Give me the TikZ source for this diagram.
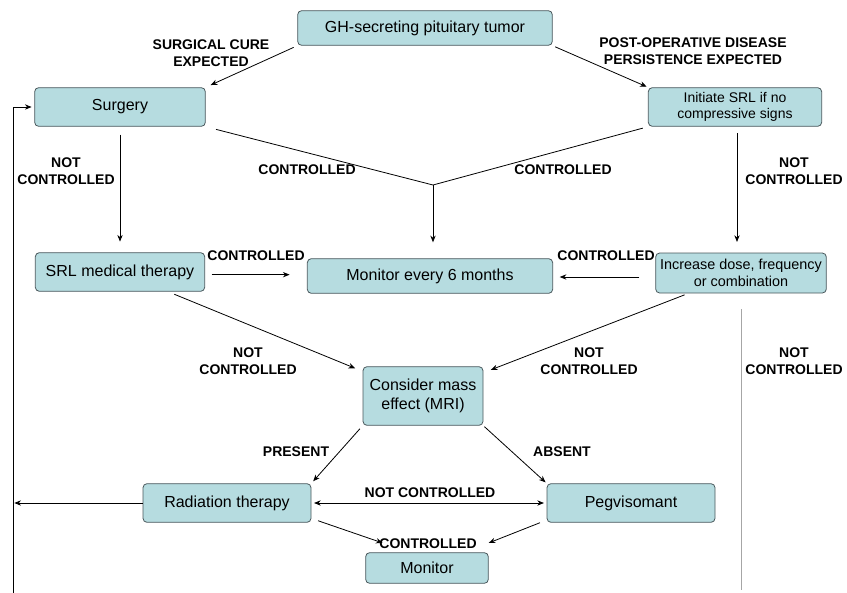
\documentclass[tikz,border=0pt]{standalone}
\usepackage{fontspec}
\setmainfont{Liberation Sans}
\usepackage{tikz}
\usetikzlibrary{arrows.meta}

\definecolor{boxfill}{RGB}{182,220,224}
\definecolor{boxline}{RGB}{74,88,92}

\begin{document}
\begin{tikzpicture}[x=0.75pt, y=-0.75pt, >={Stealth[length=5pt,width=4pt]},
        box/.style={rectangle, rounded corners=3pt, draw=boxline, fill=boxfill, align=center,
            inner sep=1pt, font=\fontsize{12}{14}\selectfont},
        lbl/.style={font=\bfseries\fontsize{10.5}{13}\selectfont, align=center},
        line width=0.6pt]
                \useasboundingbox (0,0) rectangle (847,593);
                % Draw the boxes
                \node[box, minimum width=191pt, minimum height=26pt] (tumor) at (425,28) {GH-secreting pituitary tumor};
                \node[box, minimum width=128pt, minimum height=29pt] (surgery) at (120,107) {Surgery};
                \node[box, minimum width=130pt, minimum height=29pt, font=\fontsize{10.5}{12.5}\selectfont] (initiate) at (735,107) {Initiate SRL if no\\compressive signs};
                \node[box, minimum width=127pt, minimum height=29pt] (srl) at (120,272) {SRL medical therapy};
                \node[box, minimum width=184pt, minimum height=26pt] (mon6) at (430,276) {Monitor every 6 months};
                \node[box, minimum width=128pt, minimum height=30pt, font=\fontsize{10.8}{12.8}\selectfont] (increase) at (741,273) {Increase dose, frequency\\or combination};
                \node[box, minimum width=90pt, minimum height=44pt] (consider) at (423,396) {Consider mass\\effect (MRI)};
                \node[box, minimum width=126pt, minimum height=29pt] (radiation) at (227,503) {Radiation therapy};
                \node[box, minimum width=126pt, minimum height=29pt] (pegvi) at (631,503) {Pegvisomant};
                \node[box, minimum width=92pt, minimum height=23pt] (monitor) at (427,568) {Monitor};

                % Helper points for the joins and the loop back
                \coordinate (join) at (433,185);
                \coordinate (back) at (13,593);
                \coordinate (greyend) at (741,590);

                % From the tumor
                \draw[->, shorten <=3pt, shorten >=4pt] (tumor.south west) -- (surgery.north east);
                \draw[->, shorten <=2pt, shorten >=1pt] (tumor.south east) -- (initiate.north west);
                \node[lbl] (cure) at (211,53) {SURGICAL CURE\\EXPECTED};
                \node[lbl] (persist) at (693,51) {POST-OPERATIVE DISEASE\\PERSISTENCE EXPECTED};

                % Controlled after surgery or SRL
                \draw[shorten <=8pt] (surgery.south east) -- (join);
                \draw[shorten <=4pt] (initiate.south west) -- (join);
                \draw[->, shorten >=12pt] (join) -- (join |- mon6.north);
                \node[lbl] (ctrl1) at (307,170) {CONTROLLED};
                \node[lbl] (ctrl2) at (563,170) {CONTROLLED};

                % Not controlled, top row
                \draw[->, shorten <=6pt, shorten >=8pt] (surgery.south) -- (srl.north);
                \draw[->, shorten <=5pt, shorten >=8pt] ([xshift=1.5pt]initiate.south) -- ([xshift=1.5pt]initiate.south |- increase.north);
                \node[lbl] (nc1) at (66,171) {NOT\\CONTROLLED};
                \node[lbl] (nc2) at (794,171) {NOT\\CONTROLLED};

                % Middle row into the monitoring box
                \draw[->, shorten <=5pt, shorten >=13pt] ([yshift=-2pt]srl.east) -- ([yshift=-2pt]srl.east -| mon6.west);
                \draw[->, shorten <=12pt, shorten >=5pt] ([yshift=-3pt]increase.west) -- ([yshift=-3pt]increase.west -| mon6.east);
                \node[lbl] (ctrl3) at (256,256) {CONTROLLED};
                \node[lbl] (ctrl4) at (606,256) {CONTROLLED};

                % Not controlled, towards the mass effect
                \draw[->, shorten <=5pt, shorten >=6pt] (srl) -- (consider);
                \draw[->, shorten <=3pt, shorten >=6pt] (increase) -- (consider);
                \draw[gray!70] ([yshift=-12pt]increase.south) -- (increase.south |- greyend);
                \node[lbl] (nc3) at (248,361) {NOT\\CONTROLLED};
                \node[lbl] (nc4) at (589,361) {NOT\\CONTROLLED};
                \node[lbl] (nc5) at (794,361) {NOT\\CONTROLLED};

                % Present or absent
                \draw[->, shorten <=3pt, shorten >=2pt] (consider.south west) -- (radiation.north east);
                \draw[->, shorten <=1pt, shorten >=1pt] (consider.south east) -- (pegvi.north west);
                \node[lbl] (present) at (296,452) {PRESENT};
                \node[lbl] (absent) at (562,452) {ABSENT};

                % Bottom row
                \draw[<->, shorten <=2pt, shorten >=2pt] (pegvi.west) -- (radiation.east);
                \node[lbl] (nc6) at (430,493) {NOT CONTROLLED};
                \draw[->] ([xshift=5pt,yshift=1.5pt]radiation.south east) -- ([xshift=13pt,yshift=7pt]monitor.north west);
                \draw[->] ([xshift=-5pt]pegvi.south west) -- ([yshift=7pt]monitor.north east);
                \node[lbl] (ctrl5) at (428,544) {CONTROLLED};

                % Loop back to surgery
                \draw[->, shorten >=1pt] (radiation.west) -- (radiation.west -| back);
                \draw[->, shorten >=2pt] (back) |- (surgery.west);
            \end{tikzpicture}
\end{document}
